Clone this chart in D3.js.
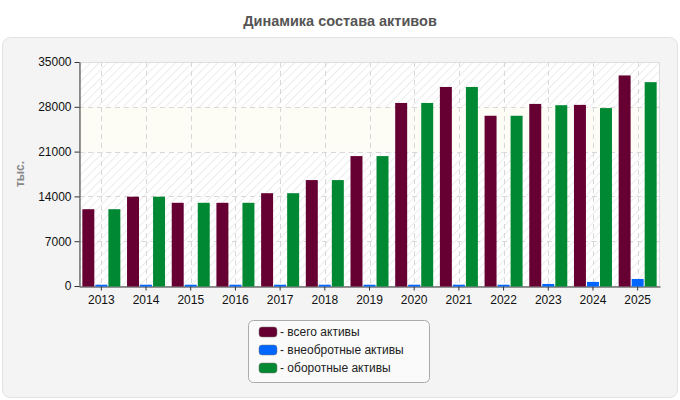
<!DOCTYPE html>
<html><head><meta charset="utf-8">
<script src="https://cdn.jsdelivr.net/npm/d3@7"></script>
<style>html,body{margin:0;padding:0;background:#fff;}svg{display:block;font-family:"Liberation Sans",Arial,sans-serif;}</style>
</head><body><svg id="c" width="680" height="400"></svg>
<script>
const years = ["2013","2014","2015","2016","2017","2018","2019","2020","2021","2022","2023","2024","2025"];
const totalAssets = [12000,13950,13000,13000,14500,16550,20300,28600,31100,26600,28450,28300,32900];
const nonCurrent = [200,200,200,200,200,200,200,200,200,200,320,640,1100];
const currentAssets = [12000,13950,13000,13000,14500,16550,20300,28600,31100,26600,28250,27800,31850];
const yTicks = [0,7000,14000,21000,28000,35000];
const seriesNames = ["- всего активы","- внеобротные активы","- оборотные активы"];
const seriesColors = ["#660033","#0066ff","#008833"];
const title = "Динамика состава активов";
const yLabel = "тыс.";

const svg = d3.select("#c");
const defs = svg.append("defs");
const pat = defs.append("pattern").attr("id","hatch").attr("patternUnits","userSpaceOnUse")
  .attr("width",6).attr("height",6).attr("patternTransform","rotate(45)");
pat.append("rect").attr("width",6).attr("height",6).attr("fill","#ffffff");
pat.append("line").attr("x1",0).attr("y1",0).attr("x2",0).attr("y2",6).attr("stroke","#ececec").attr("stroke-width",2);

svg.append("text").attr("x",340).attr("y",26).attr("text-anchor","middle")
  .attr("font-size",14.5).attr("font-weight","bold").attr("fill","#555").text(title);

svg.append("rect").attr("x",2.5).attr("y",37.5).attr("width",675).attr("height",360).attr("rx",8)
  .attr("fill","#f4f4f4").attr("stroke","#e2e2e2");

const L=79, R=660, T=62, B=286;
const x = d3.scaleBand().domain(years).range([L,R]);
const y = d3.scaleLinear().domain([0,35000]).range([B,T]);

svg.append("rect").attr("x",L).attr("y",T).attr("width",R-L).attr("height",B-T).attr("fill","url(#hatch)");
svg.append("rect").attr("x",L).attr("y",y(28000)).attr("width",R-L).attr("height",y(21000)-y(28000)).attr("fill","#fdfdf6");
svg.append("rect").attr("x",L+0.5).attr("y",T+0.5).attr("width",R-L-1).attr("height",B-T).attr("fill","none").attr("stroke","#dedede");

// grid
svg.append("g").selectAll("line").data(yTicks.slice(1,-1)).join("line")
  .attr("x1",L).attr("x2",R).attr("y1",d=>Math.round(y(d))+0.5).attr("y2",d=>Math.round(y(d))+0.5)
  .attr("stroke","#d8d8d8").attr("stroke-dasharray","5,4");
svg.append("g").selectAll("line").data(years).join("line")
  .attr("x1",d=>Math.round(x(d)+x.bandwidth()/2)+0.5).attr("x2",d=>Math.round(x(d)+x.bandwidth()/2)+0.5)
  .attr("y1",T).attr("y2",B).attr("stroke","#d8d8d8").attr("stroke-dasharray","5,4");

// axes
const ya = svg.append("g").attr("transform",`translate(${L+0.5},0)`)
  .call(d3.axisLeft(y).tickValues(yTicks).tickSize(5).tickSizeOuter(0).tickFormat(d3.format("d")));
ya.select(".domain").attr("stroke","#333");
ya.selectAll(".tick line").attr("stroke","#333");
ya.selectAll("text").attr("font-size",12).attr("fill","#111").attr("font-family","Liberation Sans, Arial, sans-serif");
const xa = svg.append("g").attr("transform",`translate(0,${B+0.5})`)
  .call(d3.axisBottom(x).tickSize(4).tickSizeOuter(0));
xa.select(".domain").attr("stroke","#333");
xa.selectAll(".tick line").attr("stroke","#333");
xa.selectAll("text").attr("font-size",12).attr("fill","#111").attr("dy","0.9em").attr("font-family","Liberation Sans, Arial, sans-serif");

// bars (drawn over the axis line like the reference)
const inner = d3.scaleBand().domain([0,1,2]).range([0,38]).paddingInner(0.08);
const series = [totalAssets, nonCurrent, currentAssets];
series.forEach((vals,si)=>{
  svg.append("g").selectAll("rect").data(years).join("rect")
    .attr("x",(d,i)=>x(d)+(x.bandwidth()-38)/2+inner(si))
    .attr("width",inner.bandwidth())
    .attr("y",(d,i)=>y(vals[i]))
    .attr("height",(d,i)=>B+0.5-y(vals[i]))
    .attr("fill",seriesColors[si]);
});

svg.append("text").attr("transform","translate(24,174) rotate(-90)").attr("text-anchor","middle")
  .attr("font-size",12).attr("font-weight","bold").attr("fill","#888").text(yLabel);

// legend
const lg = svg.append("g");
lg.append("rect").attr("x",248.5).attr("y",320.5).attr("width",181).attr("height",62).attr("rx",5)
  .attr("fill","#fafafa").attr("stroke","#aaa");
seriesNames.forEach((n,i)=>{
  const yy = 332 + i*18;
  lg.append("rect").attr("x",259).attr("y",yy-5).attr("width",18).attr("height",10).attr("rx",3)
    .attr("fill",seriesColors[i]).attr("stroke","#777").attr("stroke-width",0.5);
  lg.append("text").attr("x",280).attr("y",yy+4).attr("font-size",12).attr("fill","#222").text(n);
});
</script></body></html>
